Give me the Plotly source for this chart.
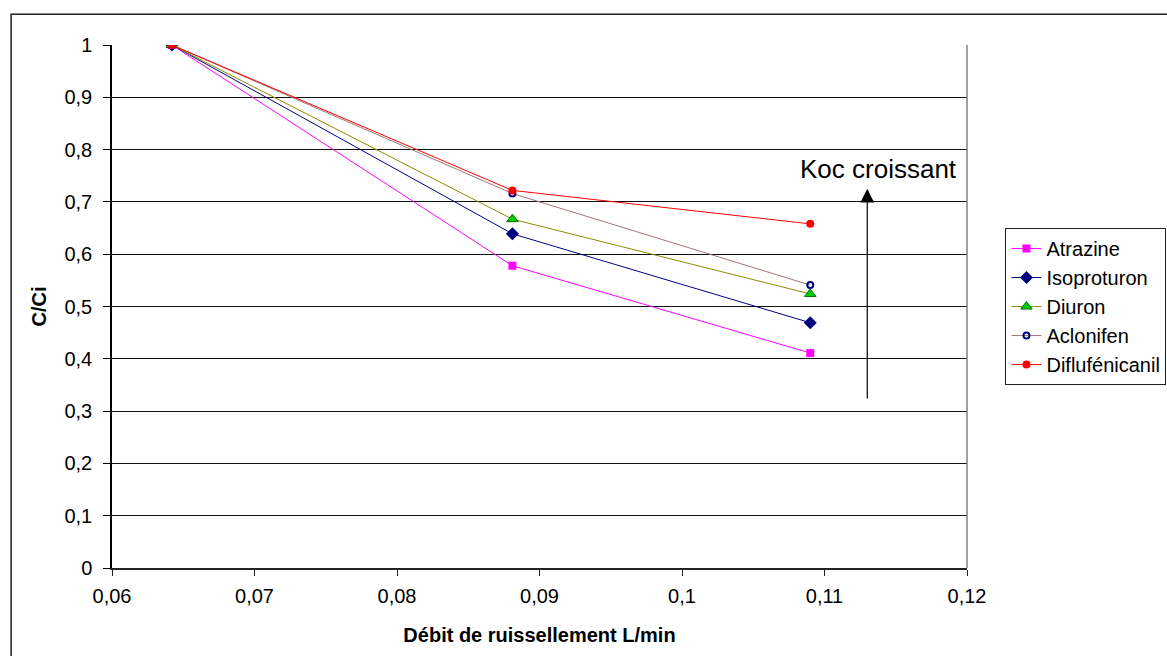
import plotly.graph_objects as go

# ---- data ----
debit = [0.0642, 0.0881, 0.1090]
atrazine = [1.0, 0.578, 0.411]
isoproturon = [1.0, 0.639, 0.469]
diuron = [1.0, 0.667, 0.524]
aclonifen = [1.0, 0.716, 0.541]
diflufenicanil = [1.0, 0.722, 0.658]

x_tickvals = [0.06, 0.07, 0.08, 0.09, 0.10, 0.11, 0.12]
x_ticktext = ["0,06", "0,07", "0,08", "0,09", "0,1", "0,11", "0,12"]
y_tickvals = [0, 0.1, 0.2, 0.3, 0.4, 0.5, 0.6, 0.7, 0.8, 0.9, 1.0]
y_ticktext = ["0", "0,1", "0,2", "0,3", "0,4", "0,5", "0,6", "0,7", "0,8", "0,9", "1"]

arrow_x = 0.113
arrow_y_start = 0.321
arrow_y_end = 0.725
arrow_label = "Koc croissant"

FONT = "Liberation Sans, Arial, sans-serif"

series = [
    ("Atrazine", atrazine, "#FF00FF",
     dict(symbol="square", size=8, color="#FF00FF", line=dict(width=0))),
    ("Isoproturon", isoproturon, "#000080",
     dict(symbol="diamond", size=10, color="#000080", line=dict(width=0))),
    ("Diuron", diuron, "#8C8C00",
     dict(symbol="triangle-up", size=10, color="#00CC00", line=dict(width=1, color="#007000"))),
    ("Aclonifen", aclonifen, "#A07878",
     dict(symbol="circle-open", size=6, color="#000080", line=dict(width=2, color="#000080"))),
    ("Diflufénicanil", diflufenicanil, "#FF0000",
     dict(symbol="circle", size=8, color="#FF0000", line=dict(width=0))),
]

fig = go.Figure()
for name, vals, lc, mk in series:
    fig.add_trace(go.Scatter(
        x=debit, y=vals, name=name, mode="lines+markers",
        line=dict(color=lc, width=1), marker=mk,
    ))

fig.update_layout(
    width=1167, height=656,
    margin=dict(l=112, r=200, t=45, b=88, autoexpand=False),
    paper_bgcolor="white", plot_bgcolor="white",
    font=dict(family=FONT, size=20, color="black"),
    separators=", ",
    showlegend=True,
    legend=dict(
        x=1.045, y=0.65, xanchor="left", yanchor="top",
        bordercolor="#222222", borderwidth=1, bgcolor="white",
        font=dict(size=20, family=FONT), tracegroupgap=0,
    ),
    xaxis=dict(
        range=[0.06, 0.12], tickvals=x_tickvals, ticktext=x_ticktext,
        showgrid=False, zeroline=False,
        showline=True, linecolor="#222222", linewidth=1.5,
        ticks="outside", ticklen=6, tickcolor="#222222",
        tickfont=dict(size=20), ticklabelstandoff=3,
        automargin=False,
        title=dict(text="<b>Débit de ruissellement L/min</b>", font=dict(size=20), standoff=22),
    ),
    yaxis=dict(
        range=[0, 1], tickvals=y_tickvals, ticktext=y_ticktext,
        showgrid=True, gridcolor="#111111", gridwidth=1, zeroline=False,
        showline=True, linecolor="black", linewidth=1.5,
        ticks="outside", ticklen=7, tickcolor="black",
        tickfont=dict(size=20), ticklabelstandoff=7,
        automargin=False,
        title=dict(text="<b>C/Ci</b>", font=dict(size=20), standoff=12),
    ),
    shapes=[
        # plot area right border
        dict(type="line", xref="paper", yref="paper", x0=1, x1=1, y0=0, y1=1,
             line=dict(color="#808080", width=1.5)),
        # outer chart border
        dict(type="rect", xref="paper", yref="paper", x0=-0.118, x1=1.4, y0=-0.4, y1=1.059,
             line=dict(color="#222222", width=1.5), layer="below"),
    ],
    annotations=[
        dict(x=arrow_x, y=arrow_y_end, ax=arrow_x, ay=arrow_y_start,
             xref="x", yref="y", axref="x", ayref="y",
             showarrow=True, arrowhead=2, arrowsize=2.3, arrowwidth=1.2,
             arrowcolor="black", text=""),
        dict(x=arrow_x + 0.0008, y=arrow_y_end + 0.005, xref="x", yref="y",
             text=arrow_label, showarrow=False, yanchor="bottom",
             font=dict(size=26, family=FONT, color="black")),
    ],
)

fig.write_html("out.html")
